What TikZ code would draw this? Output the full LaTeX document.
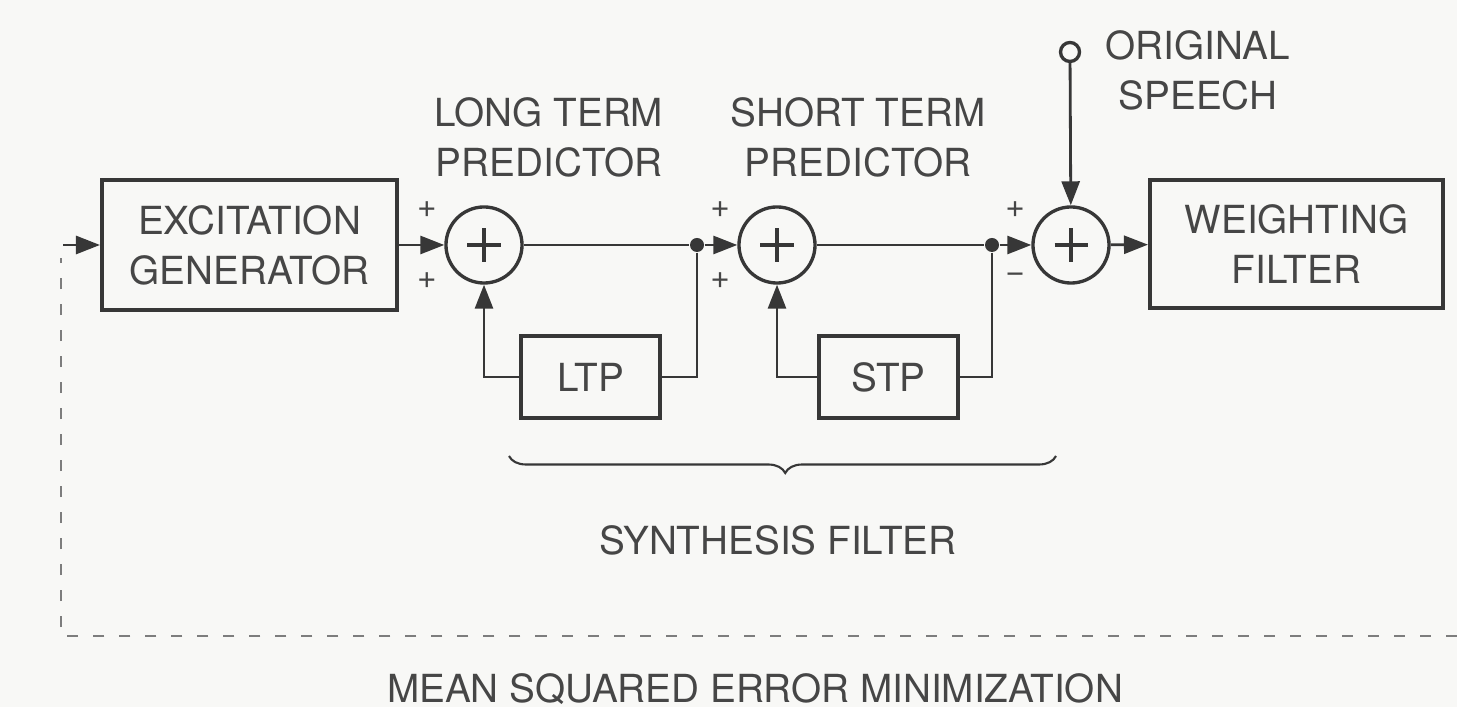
\documentclass[tikz,border=0pt]{standalone}
\usepackage{fontspec}
\setmainfont{TeX Gyre Heros}
\usetikzlibrary{arrows.meta,decorations.pathreplacing,calc}
\definecolor{ink}{RGB}{55,55,55}
\definecolor{txt}{RGB}{70,70,70}
\definecolor{dashc}{RGB}{125,125,125}
\definecolor{bg}{RGB}{248,248,246}
\begin{document}
\begin{tikzpicture}[x=0.01cm,y=-0.01cm,
  font=\fontsize{11}{14.2}\selectfont,
  blk/.style={draw=ink, line width=1.1pt, minimum width=2.95cm, minimum height=1.3cm, align=center, text=txt, inner sep=0pt},
  smallblk/.style={draw=ink, line width=1.1pt, minimum width=1.39cm, minimum height=0.82cm, text=txt, inner sep=0pt},
  sumnode/.style={circle, draw=ink, line width=0.95pt, minimum size=0.76cm, inner sep=0pt,
    path picture={\draw[ink, line width=1pt]
      ([xshift=-0.165cm]path picture bounding box.center) -- ([xshift=0.165cm]path picture bounding box.center)
      ([yshift=-0.165cm]path picture bounding box.center) -- ([yshift=0.165cm]path picture bounding box.center);}},
  dotnode/.style={circle, fill=ink, minimum size=0.14cm, inner sep=0pt},
  wire/.style={draw=ink, line width=0.8pt},
  arr/.style={wire, -{Triangle[length=0.24cm,width=0.18cm]}},
  sign/.style={font=\fontsize{9.5}{9.5}\selectfont, text=txt, inner sep=0pt},
  lbl/.style={text=txt, align=center, inner sep=0pt},
  dashline/.style={draw=dashc, line width=0.6pt, dash pattern=on 0.11cm off 0.15cm}
]
\fill[bg] (0,0) rectangle (1457,707);
\useasboundingbox (0,0) rectangle (1457,707);

% blocks
\node[blk] (exc) at (249.5,245) {EXCITATION\\GENERATOR};
\node[blk, minimum width=2.93cm, minimum height=1.28cm] (wf) at (1296.5,244) {WEIGHTING\\FILTER};
\node[smallblk] (ltp) at (590.5,377) {LTP};
\node[smallblk] (stp) at (888.5,377) {STP};

% summing junctions and taps
\node[sumnode] (s1) at (484,245) {};
\node[sumnode] (s2) at (777,245) {};
\node[sumnode] (s3) at (1071,245) {};
\node[dotnode] (d1) at (697,245) {};
\node[dotnode] (d2) at (992,245) {};
\node[circle, draw=ink, line width=0.95pt, minimum size=0.19cm, inner sep=0pt] (os) at (1070,52) {};

% labels
\node[lbl] (ltlab) at (549,137) {LONG TERM\\PREDICTOR};
\node[lbl] (stlab) at (858,137) {SHORT TERM\\PREDICTOR};
\node[lbl] (oslab) at (1198,70) {ORIGINAL\\SPEECH};
\node[lbl] (synlab) at (778,540) {SYNTHESIS FILTER};
\node[lbl] (mselab) at (755,689) {MEAN SQUARED ERROR MINIMIZATION};

% signs
\node[sign] (p1a) at (427,210) {+};
\node[sign] (p1b) at (427,281) {+};
\node[sign] (p2a) at (720,210) {+};
\node[sign] (p2b) at (720,281) {+};
\node[sign] (p3a) at (1015,210) {+};
\node[sign] (p3b) at (1015,278) {\textminus};

% connectors
\draw[arr] (exc) -- (s1);
\draw[wire] (s1) -- (d1);
\draw[arr] (d1) -- (s2);
\draw[wire] (s2) -- (d2);
\draw[arr] (d2) -- (s3);
\draw[arr] (s3) -- (wf);
\draw[wire] (d1) |- (ltp);
\draw[arr] (ltp) -| (s1);
\draw[wire] (d2) |- (stp);
\draw[arr] (stp) -| (s2);
\draw[arr] (os) -- (s3);

% brace
\coordinate (brR) at (1056,456);
\coordinate (brL) at (509,456);
\draw[ink, line width=0.6pt, decorate, decoration={brace, amplitude=0.17cm, aspect=0.495}] (brR) -- (brL);

% error feedback
\coordinate (fbR) at (1457,636);
\coordinate (fbL) at (61,636);
\coordinate (fbT) at (61,258);
\coordinate (fbA) at (63,245);
\draw[dashline] (fbR) -- (fbL) -- (fbT);
\draw[arr] (fbA) -- (exc);
\end{tikzpicture}
\end{document}
